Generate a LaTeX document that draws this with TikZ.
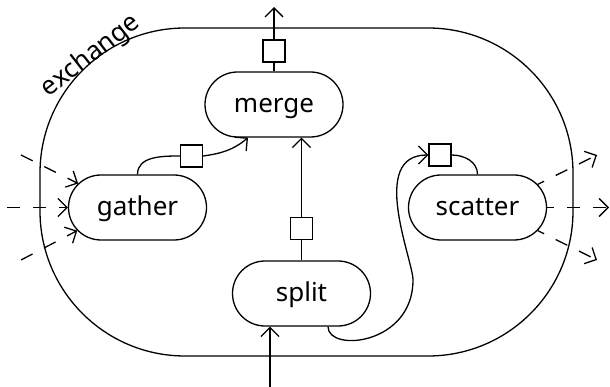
\documentclass[tikz,border=0pt]{standalone}
\usepackage{fontspec}
\setmainfont{Noto Sans}
\usetikzlibrary{arrows.meta,shapes.misc,calc}
\begin{document}
\begin{tikzpicture}[x=1pt,y=1pt,line width=1.3pt,
  op/.style={draw, rounded rectangle, minimum width=138pt, minimum height=65pt,
    inner sep=0pt, text height=20pt, text depth=4pt, font=\fontsize{26}{30}\selectfont},
  port/.style={draw, rectangle, minimum size=22pt, inner sep=0pt},
  arr/.style={-{Straight Barb[length=9pt,width=18pt]}},
  dsh/.style={arr, dash pattern=on 13pt off 13pt},
  frame/.style={draw, rectangle, rounded corners=145pt, minimum width=533pt, minimum height=328pt, inner sep=0pt},
  lbl/.style={font=\fontsize{26}{30}\selectfont, inner sep=0pt}
]
\useasboundingbox (0,0) rectangle (610,-387);
\node[frame] (exch) at (306.5,-192) {};
\node[lbl, rotate=38] (exlabel) at (91,-56) {exchange};

\node[op] (merge) at (274,-104.5) {merge};
\node[op] (gather) at (137.5,-207.5) {gather};
\node[op] (scatter) at (477.5,-207.5) {scatter};
\node[op] (split) at (301.5,-293.5) {split};

\node[port] (p1) at (274,-51) {};
\node[port] (p2) at (191.5,-156) {};
\node[port] (p3) at (301.5,-228.5) {};
\node[port] (p4) at (440,-155) {};

% merge output
\coordinate (mout) at (274,-7);
\draw (merge.north) -- (p1.south);
\draw[arr] (p1.north) -- (mout);

% gather -> merge
\draw (gather.north) to[out=90,in=180] (p2.west);
\draw[arr] (p2.east) to[out=8,in=-140] ($(merge.south)+(-26,0)$);

% split -> merge
\draw (split.north) -- (p3.south);
\draw[arr] (p3.north) -- (p3.north |- merge.south);

% input to split
\coordinate (bin) at (270,-387);
\draw[arr] (bin) -- (bin |- split.south);

% split -> scatter
\coordinate (s0) at ($(split.south)+(26.5,0)$);
\coordinate (sc) at (413,-280);
\draw[arr] (s0) .. controls +(0,-26) and +(0,-65) .. (sc)
  .. controls +(0,20) and +(-60,0) .. (p4.west);
\draw (p4.east) to[out=0,in=90] (scatter.north);

% dashed inputs to gather
\coordinate (g1) at (21,-155);
\coordinate (g2) at (7,-207.5);
\coordinate (g3) at (21,-260);
\draw[dsh] (g1) -- (gather.158.8);
\draw[dsh] (g2) -- (gather.west);
\draw[dsh] (g3) -- (gather.201.2);

% dashed outputs from scatter
\coordinate (o1) at (597,-155);
\coordinate (o2) at (609,-207.5);
\coordinate (o3) at (597,-260);
\draw[dsh, dash phase=6pt] (scatter.21.6) -- (o1);
\draw[dsh, dash phase=6pt] (scatter.east) -- (o2);
\draw[dsh, dash phase=6pt] (scatter.-21.6) -- (o3);
\end{tikzpicture}
\end{document}
